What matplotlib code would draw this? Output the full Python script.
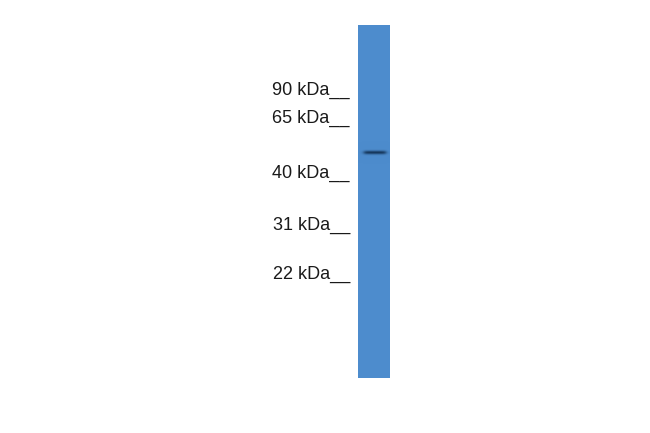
import numpy as np
import matplotlib
matplotlib.use("Agg")
import matplotlib.pyplot as plt
from matplotlib.colors import to_rgb

# Data
marker_labels = ["90 kDa", "65 kDa", "40 kDa", "31 kDa", "22 kDa"]
marker_kda = [90, 65, 40, 31, 22]
marker_y = [97, 125, 180, 232, 281]   # pixel rows of the ladder underscores
band_kda = [51]
band_strength = [1.0]

plt.rcParams['font.family'] = ['Liberation Sans', 'DejaVu Sans']
fig = plt.figure(figsize=(6.5, 4.33), dpi=100)
ax = fig.add_axes([0, 0, 1, 1])
ax.set_xlim(0, 650)
ax.set_ylim(433, 0)
ax.axis('off')

# lane
lane_x0, lane_x1, lane_y0, lane_y1 = 358, 390, 25, 378
H = lane_y1 - lane_y0
W = lane_x1 - lane_x0
base = np.array(to_rgb("#4d8ccd"))
dark = np.array(to_rgb("#0d2a4a"))
img = np.tile(base, (H, W, 1))
ys = np.arange(H) + lane_y0 + 0.5
xs = np.arange(W) + lane_x0 + 0.5
logk = np.log(marker_kda[::-1])
for k, s in zip(band_kda, band_strength):
    by = np.interp(np.log(k), logk, marker_y[::-1])
    prof_y = np.exp(-0.5 * ((ys - by) / 1.3) ** 2)
    prof_x = 1.0 / (1 + np.exp(-(xs - 364) / 1.2)) * 1.0 / (1 + np.exp((xs - 386) / 1.2))
    a = s * 0.85 * prof_y[:, None] * prof_x[None, :]
    img = img * (1 - a[..., None]) + dark * a[..., None]
ax.imshow(img, extent=(lane_x0, lane_x1, lane_y1, lane_y0), aspect='auto',
          interpolation='bilinear', zorder=1)

for lab, y in zip(marker_labels, marker_y):
    ax.text(350, y - 2, lab + "__", ha='right', va='baseline', fontsize=13,
            color='#1a1a1a')

fig.savefig("out.png", dpi=100)
